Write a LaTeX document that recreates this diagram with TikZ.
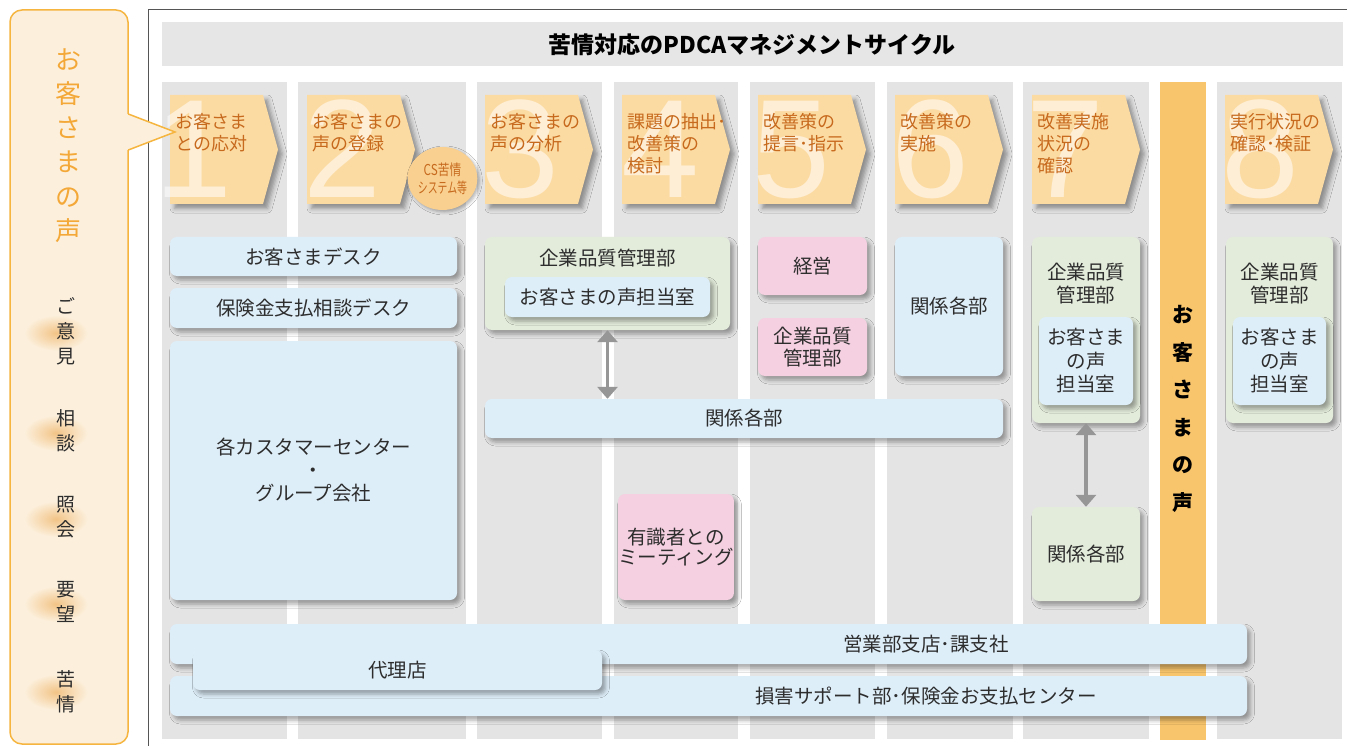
\documentclass[tikz,border=0pt]{standalone}
\usepackage{fontspec}
\setmainfont{Noto Sans CJK JP}
\newfontfamily\digitfont{Liberation Sans}
\usetikzlibrary{shapes.geometric,arrows.meta,shadows.blur}
\definecolor{colgray}{RGB}{228,228,228}
\definecolor{hdrgray}{RGB}{230,230,230}
\definecolor{stepfill}{RGB}{252,219,163}
\definecolor{csfill}{RGB}{249,208,144}
\definecolor{steptext}{RGB}{199,106,30}
\definecolor{bblue}{RGB}{222,238,249}
\definecolor{bgreen}{RGB}{227,236,219}
\definecolor{bpink}{RGB}{245,208,224}
\definecolor{vcol}{RGB}{248,197,108}
\definecolor{panelfill}{RGB}{252,240,221}
\definecolor{panelline}{RGB}{245,181,63}
\definecolor{voiceorange}{RGB}{243,168,56}
\definecolor{glow}{RGB}{242,196,135}
\definecolor{txt}{RGB}{45,45,45}
\definecolor{arrowgray}{RGB}{150,150,150}
\definecolor{framegray}{RGB}{85,85,85}
\newcommand{\mystep}[5]{%
  \fill[stepfill, blur shadow={shadow xshift=4.5pt,shadow yshift=-4.5pt,shadow blur radius=4.5pt,shadow opacity=38}]
    (#1,95) -- ++(93,0) -- ++(15,54.5) -- ++(-15,54.5) -- ++(-93,0) -- cycle;
  \node[digitstyle] at (#3,198) {#2};
  \node[steptxt] (#4) at (#1+5,113) {#5};
}
\begin{document}
\begin{tikzpicture}[x=1pt,y=-1pt,
  box/.style={rounded corners=7pt, inner sep=0pt, align=center, text=txt,
    font=\fontsize{19.5}{23}\selectfont,
    blur shadow={shadow xshift=3.5pt,shadow yshift=-4pt,shadow blur radius=4pt,shadow opacity=35}},
  bbox/.style={box, fill=bblue},
  gbox/.style={box, fill=bgreen},
  pbox/.style={box, fill=bpink},
  lbl/.style={inner sep=0pt, align=center, text=txt, font=\fontsize{19.5}{23}\selectfont},
  steptxt/.style={inner sep=0pt, anchor=north west, align=left, text=steptext, font=\fontsize{18}{22}\selectfont},
  digitstyle/.style={inner sep=0pt, anchor=base west, text=white, text opacity=0.55, font=\digitfont\fontsize{140}{140}\selectfont},
  dbl/.style={draw=arrowgray, line width=3.5pt, {Triangle[width=20pt,length=12pt]}-{Triangle[width=20pt,length=12pt]}},
  smallvoice/.style={inner sep=0pt, align=center, text=txt, font=\fontsize{19}{25}\selectfont}
]
\useasboundingbox (0,0) rectangle (1347,746);
\fill[white] (0,0) rectangle (1347,746);

% main frame
\draw[framegray, line width=1pt] (148,10) rectangle (1400,800);

% header
\fill[hdrgray] (162,22) rectangle (1343,66);
\node[inner sep=0pt, font=\bfseries\fontsize{23}{23}\selectfont] (title) at (752,45) {苦情対応のPDCAマネジメントサイクル};

% columns
\fill[colgray] (162,82) rectangle (287,739);
\fill[colgray] (298,82) rectangle (466,739);
\fill[colgray] (477,82) rectangle (602,739);
\fill[colgray] (614,82) rectangle (738,739);
\fill[colgray] (750,82) rectangle (875,739);
\fill[colgray] (887,82) rectangle (1013,739);
\fill[colgray] (1023,82) rectangle (1149,739);
\fill[vcol] (1160,82) rectangle (1206,740);
\fill[colgray] (1217,82) rectangle (1342,739);
\node[inner sep=0pt, align=center, font=\bfseries\fontsize{21}{37.6}\selectfont] (vc) at (1183,409) {お\\客\\さ\\ま\\の\\声};

% step arrows
\mystep{170}{1}{154}{s1}{お客さま\\との応対}
\mystep{307}{2}{303}{s2}{お客さまの\\声の登録}
\mystep{485}{3}{481}{s3}{お客さまの\\声の分析}
\mystep{622}{4}{621}{s4}{課題の抽出･\\改善策の\\検討}
\mystep{758}{5}{752}{s5}{改善策の\\提言･指示}
\mystep{895}{6}{891}{s6}{改善策の\\実施}
\mystep{1032}{7}{1026}{s7}{改善実施\\状況の\\確認}
\mystep{1225}{8}{1221}{s8}{実行状況の\\確認･検証}

% CS ellipse
\node[ellipse, fill=csfill, minimum width=52pt, minimum height=63pt, inner sep=0pt, align=center,
  text=steptext, font=\fontsize{15}{18}\selectfont,
  blur shadow={shadow xshift=2pt,shadow yshift=-2pt,shadow blur radius=3pt,shadow opacity=30}]
  (cs) at (442.5,178.5) {\scalebox{0.78}[1]{CS苦情}\\\scalebox{0.66}[1]{システム等}};

% column 1
\node[bbox, minimum width=287pt, minimum height=39pt] (desk1) at (313.5,256.5) {お客さまデスク};
\node[bbox, minimum width=287pt, minimum height=40pt] (desk2) at (313.5,308) {保険金支払相談デスク};
\node[bbox, minimum width=287pt, minimum height=259pt] (cc) at (313.5,470.5) {各カスタマーセンター\\・\\グループ会社};

% column 3
\node[gbox, minimum width=245pt, minimum height=93pt] (cq) at (607.5,283.5) {};
\node[lbl] (cqt) at (607.5,258) {企業品質管理部};
\node[bbox, minimum width=205pt, minimum height=40pt] (cqv) at (607.5,297) {お客さまの声担当室};
\node[bbox, minimum width=518pt, minimum height=39pt] (rel1) at (744,418.5) {関係各部};
\draw[dbl] (cq.south) -- (cq.south |- rel1.north);

% column 4
\node[pbox, minimum width=108pt, minimum height=106pt, font=\fontsize{19.5}{20}\selectfont] (meet) at (676,547) {有識者との\\ミーティング};

% column 5
\node[pbox, minimum width=109pt, minimum height=58pt] (keiei) at (812.5,266) {経営};
\node[pbox, minimum width=109pt, minimum height=58pt, font=\fontsize{19.5}{22}\selectfont] (kq5) at (812.5,347) {企業品質\\管理部};

% column 6
\node[bbox, minimum width=108pt, minimum height=139pt] (rel2) at (949,306.5) {関係各部};

% column 7
\node[gbox, minimum width=108pt, minimum height=186pt] (g7) at (1086,330) {};
\node[lbl] (g7t) at (1086,283.5) {企業品質\\管理部};
\node[bbox, minimum width=94pt, minimum height=88pt, font=\fontsize{19.5}{23.5}\selectfont] (v7) at (1086,361) {お客さま\\の声\\担当室};
\node[gbox, minimum width=108pt, minimum height=94pt] (rel3) at (1086,554) {関係各部};
\draw[dbl] (g7.south) -- (rel3.north);

% column 8
\node[gbox, minimum width=107pt, minimum height=186pt] (g8) at (1279.5,330) {};
\node[lbl] (g8t) at (1279.5,283.5) {企業品質\\管理部};
\node[bbox, minimum width=93pt, minimum height=88pt, font=\fontsize{19.5}{23.5}\selectfont] (v8) at (1279.5,361) {お客さま\\の声\\担当室};

% bottom bands
\node[bbox, minimum width=1077pt, minimum height=40pt] (eig) at (708.5,644) {};
\node[lbl] (eigt) at (926,644) {営業部支店･課支社};
\node[bbox, minimum width=1077pt, minimum height=40pt] (son) at (708.5,696) {};
\node[lbl] (sont) at (926,696) {損害サポート部･保険金お支払センター};
\node[bbox, minimum width=409pt, minimum height=40pt] (dairi) at (397.5,670) {代理店};

% left panel
\draw[fill=panelfill, draw=panelline, line width=1.5pt, rounded corners=12pt] (10,10) rectangle (128,744);
\shade[inner color=glow, outer color=panelfill] (56,333) ellipse (32 and 18);
\shade[inner color=glow, outer color=panelfill] (56,433) ellipse (32 and 18);
\shade[inner color=glow, outer color=panelfill] (56,519) ellipse (32 and 18);
\shade[inner color=glow, outer color=panelfill] (56,604) ellipse (32 and 18);
\shade[inner color=glow, outer color=panelfill] (56,692) ellipse (32 and 18);
\node[inner sep=0pt, align=center, text=voiceorange, font=\fontsize{26}{34.2}\selectfont] (voice) at (68,145.5) {お\\客\\さ\\ま\\の\\声};
\node[smallvoice] (v1) at (66,331) {ご\\意\\見};
\node[smallvoice] (v2) at (66,430.5) {相\\談};
\node[smallvoice] (v3) at (66,517) {照\\会};
\node[smallvoice] (v4) at (66,602) {要\\望};
\node[smallvoice] (v5) at (66,692) {苦\\情};
\coordinate (tip) at (175,132);
\fill[panelfill] (127,114) -- (tip) -- (127,150) -- cycle;
\draw[panelline, line width=1.5pt] (128.3,114) -- (tip) -- (128.3,150);
\end{tikzpicture}
\end{document}
